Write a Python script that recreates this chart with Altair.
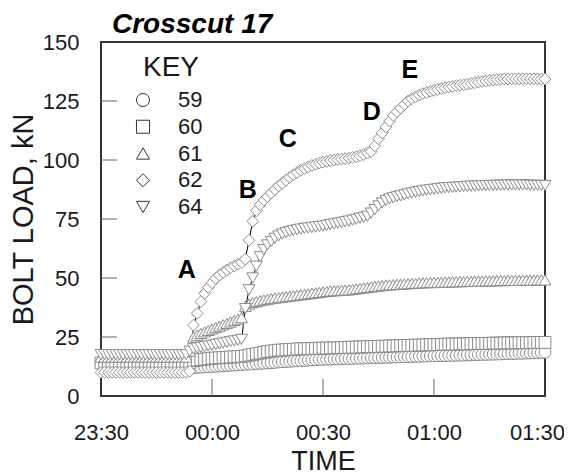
import altair as alt
import pandas as pd

# ---------------- data (minutes after 23:30, bolt load in kN) ----------------
minutes = list(range(121))

s59 = [13.5, 13.5, 13.5, 13.5, 13.5, 13.5, 13.5, 13.5, 13.5, 13.5,
       13.5, 13.5, 13.5, 13.5, 13.5, 13.5, 13.5, 13.5, 13.5, 13.5,
       13.5, 13.5, 13.5, 13.5, 13.0, 12.0, 12.1, 12.2, 12.3, 12.4,
       12.5, 12.6, 12.7, 12.8, 12.9, 13.0, 13.1, 13.2, 13.3, 13.4,
       13.5, 13.6, 13.7, 13.8, 13.9, 14.0, 14.1, 14.2, 14.4, 14.5,
       14.6, 14.7, 14.8, 14.9, 15.0, 15.1, 15.2, 15.3, 15.4, 15.5,
       15.5, 15.6, 15.6, 15.7, 15.7, 15.8, 15.8, 15.9, 15.9, 16.0,
       16.0, 16.1, 16.1, 16.2, 16.2, 16.3, 16.3, 16.4, 16.4, 16.5,
       16.5, 16.6, 16.6, 16.7, 16.7, 16.8, 16.8, 16.9, 16.9, 17.0,
       17.0, 17.0, 17.1, 17.1, 17.2, 17.2, 17.2, 17.3, 17.3, 17.4,
       17.4, 17.5, 17.5, 17.6, 17.6, 17.7, 17.7, 17.8, 17.8, 17.9,
       17.9, 18.0, 18.0, 18.1, 18.1, 18.2, 18.2, 18.3, 18.3, 18.4, 18.5]

s60 = [14.0, 14.0, 14.0, 14.0, 14.0, 14.0, 14.0, 14.0, 14.0, 14.0,
       14.0, 14.0, 14.0, 14.0, 14.0, 14.0, 14.0, 14.0, 14.0, 14.0,
       14.0, 14.0, 14.0, 14.0, 14.2, 15.0, 15.2, 15.4, 15.6, 15.8,
       16.0, 16.1, 16.2, 16.3, 16.4, 16.5, 16.6, 16.7, 16.8, 17.0,
       17.3, 17.6, 17.9, 18.2, 18.5, 18.8, 19.0, 19.2, 19.4, 19.5,
       19.6, 19.7, 19.8, 19.9, 20.0, 20.0, 20.1, 20.1, 20.2, 20.2,
       20.3, 20.3, 20.4, 20.4, 20.5, 20.5, 20.6, 20.6, 20.7, 20.7,
       20.8, 20.8, 20.9, 20.9, 21.0, 21.0, 21.1, 21.1, 21.2, 21.2,
       21.3, 21.3, 21.4, 21.4, 21.5, 21.5, 21.6, 21.6, 21.7, 21.7,
       21.8, 21.8, 21.9, 21.9, 22.0, 22.0, 22.0, 22.1, 22.1, 22.1,
       22.2, 22.2, 22.2, 22.3, 22.3, 22.3, 22.4, 22.4, 22.4, 22.5,
       22.5, 22.5, 22.5, 22.6, 22.6, 22.6, 22.6, 22.7, 22.7, 22.7, 22.7]

s61 = [16.5, 16.5, 16.5, 16.5, 16.5, 16.5, 16.5, 16.5, 16.5, 16.5,
       16.5, 16.5, 16.5, 16.5, 16.5, 16.5, 16.5, 16.5, 16.5, 16.5,
       16.5, 16.5, 16.5, 16.5, 19.0, 25.0, 25.8, 26.5, 27.2, 27.8,
       28.4, 29.0, 29.6, 30.2, 30.8, 31.4, 32.0, 32.6, 33.2, 38.0,
       39.0, 39.6, 40.0, 40.4, 40.7, 41.0, 41.3, 41.5, 41.7, 41.9,
       42.1, 42.3, 42.5, 42.7, 42.9, 43.1, 43.3, 43.5, 43.7, 43.9,
       44.1, 44.3, 44.5, 44.6, 44.7, 44.8, 44.9, 45.0, 45.2, 45.4,
       45.6, 45.8, 46.0, 46.2, 46.4, 46.6, 46.8, 47.0, 47.1, 47.2,
       47.3, 47.4, 47.5, 47.6, 47.7, 47.8, 47.9, 48.0, 48.0, 48.1,
       48.1, 48.2, 48.2, 48.3, 48.3, 48.4, 48.4, 48.5, 48.5, 48.6,
       48.6, 48.7, 48.7, 48.7, 48.8, 48.8, 48.8, 48.9, 48.9, 48.9,
       49.0, 49.0, 49.0, 49.0, 49.1, 49.1, 49.1, 49.1, 49.2, 49.2, 49.2]

s62 = [10.0, 10.0, 10.0, 10.0, 10.0, 10.0, 10.0, 10.0, 10.0, 10.0,
       10.0, 10.0, 10.0, 10.0, 10.0, 10.0, 10.0, 10.0, 10.0, 10.0,
       10.0, 10.0, 10.0, 10.0, 10.5, 30.0, 35.0, 40.0, 43.5, 46.0,
       48.0, 49.8, 51.2, 52.4, 53.4, 54.3, 55.1, 55.8, 56.5, 58.0,
       66.0, 74.0, 78.5, 81.0, 83.0, 84.5, 86.0, 87.5, 89.0, 90.2,
       91.4, 92.6, 93.7, 94.7, 95.6, 96.4, 97.1, 97.7, 98.2, 98.7,
       99.1, 99.4, 99.7, 100.0, 100.2, 100.4, 100.6, 100.8, 101.1, 101.4,
       101.8, 102.3, 102.9, 103.6, 106.0, 109.0, 111.5, 114.0, 116.5, 118.8,
       120.5, 122.0, 123.5, 125.0, 126.0, 126.8, 127.5, 128.1, 128.6, 129.1,
       129.5, 129.9, 130.3, 130.6, 130.9, 131.2, 131.5, 131.7, 131.9, 132.1,
       132.4, 132.7, 133.0, 133.3, 133.5, 133.7, 133.9, 134.1, 134.2, 134.3,
       134.3, 134.4, 134.4, 134.4, 134.4, 134.4, 134.4, 134.4, 134.4, 134.3, 134.3]

s64 = [17.5, 17.5, 17.5, 17.5, 17.5, 17.5, 17.5, 17.5, 17.5, 17.5,
       17.5, 17.5, 17.5, 17.5, 17.5, 17.5, 17.5, 17.5, 17.5, 17.5,
       17.5, 17.5, 17.5, 17.5, 19.0, 20.0, 20.3, 20.6, 20.9, 21.2,
       21.5, 21.8, 22.1, 22.4, 22.7, 23.0, 23.3, 23.6, 24.0, 37.0,
       45.0, 50.0, 55.0, 59.0, 62.0, 64.0, 65.5, 66.8, 67.8, 68.6,
       69.2, 69.7, 70.1, 70.4, 70.7, 71.0, 71.2, 71.4, 71.6, 71.8,
       72.0, 72.3, 72.6, 72.9, 73.2, 73.5, 73.8, 74.1, 74.5, 74.9,
       75.3, 75.7, 76.2, 77.5, 79.0, 80.5, 81.8, 82.8, 83.5, 84.0,
       84.4, 84.8, 85.2, 85.6, 86.0, 86.3, 86.6, 86.9, 87.2, 87.4,
       87.6, 87.8, 88.0, 88.2, 88.3, 88.4, 88.5, 88.6, 88.7, 88.8,
       88.9, 89.0, 89.0, 89.1, 89.1, 89.2, 89.2, 89.3, 89.3, 89.3,
       89.4, 89.4, 89.4, 89.4, 89.4, 89.4, 89.3, 89.3, 89.2, 89.2, 89.2]

series_names = ["59", "60", "61", "62", "64"]
series_shapes = ["circle", "square", "triangle-up", "diamond", "triangle-down"]
tick_minutes = [0, 30, 60, 90, 120]
tick_labels = ["23:30", "00:00", "00:30", "01:00", "01:30"]
y_ticks = [0, 25, 50, 75, 100, 125, 150]
ann_labels = ["A", "B", "C", "D", "E"]
ann_t = [23.2, 39.7, 50.5, 73.2, 83.5]
ann_v = [53.4, 87.3, 108.9, 120.3, 138.0]

all_series = [s59, s60, s61, s62, s64]
for s in all_series:
    assert len(s) == len(minutes), len(s)

frames = []
for name, vals in zip(series_names, all_series):
    frames.append(pd.DataFrame({"t": minutes, "v": vals, "series": name}))
df = pd.concat(frames, ignore_index=True)

FONT = "Liberation Sans"
TXT = "#1a1a1a"

X = alt.X(
    "t:Q",
    scale=alt.Scale(domain=[0, 120], nice=False, zero=False),
    axis=alt.Axis(
        values=tick_minutes,
        labelExpr=f"{tick_labels}[round(datum.value / 30)]",
        title="TIME",
        domain=False, ticks=False, tickSize=0, grid=False,
        labelFlush=False,
        labelFont=FONT, labelFontSize=22, labelColor=TXT, labelPadding=26,
        labelOffset={"condition": {"test": "datum.value == 120", "value": -8}, "value": 0},
        titleFont=FONT, titleFontSize=27, titleFontWeight="normal",
        titleColor=TXT, titlePadding=5,
    ),
)
Y = alt.Y(
    "v:Q",
    scale=alt.Scale(domain=[0, 150], nice=False, zero=True),
    axis=alt.Axis(
        values=y_ticks,
        title="BOLT LOAD, kN",
        domain=False, ticks=False, tickSize=0, grid=False,
        labelFlush=False,
        labelFont=FONT, labelFontSize=22, labelColor=TXT, labelPadding=22,
        titleFont=FONT, titleFontSize=29, titleFontWeight="normal",
        titleColor=TXT, titlePadding=4,
    ),
)
SHAPE = alt.Shape("series:N", scale=alt.Scale(domain=series_names, range=series_shapes), legend=None)

base = alt.Chart(df)
lines = base.mark_line(color="black", strokeWidth=1).encode(x=X, y=Y, detail="series:N")
points = base.mark_point(filled=True, fill="white", stroke="#8a8a8a", strokeWidth=1,
                         size=140, opacity=1).encode(x=X, y=Y, shape=SHAPE)

ytick_df = pd.DataFrame({"v": y_ticks[1:-1]})
yticks = alt.Chart(ytick_df).mark_rule(color="#666", strokeWidth=1).encode(
    y=Y, x=alt.value(0), x2=alt.value(16))
xtick_df = pd.DataFrame({"t": tick_minutes[1:-1]})
xticks = alt.Chart(xtick_df).mark_rule(color="#666", strokeWidth=1).encode(
    x=X, y=alt.value(354), y2=alt.value(337))

ann_df = pd.DataFrame({"t": ann_t, "v": ann_v, "label": ann_labels})
ann = alt.Chart(ann_df).mark_text(font=FONT, fontSize=25, fontWeight="bold", color="black",
                                  align="center", baseline="middle").encode(
    x=X, y=Y, text="label:N")

title = alt.Chart(pd.DataFrame({"k": [0]})).mark_text(
    text="Crosscut 17", font=FONT, fontSize=28, fontWeight="bold", fontStyle="italic",
    color="black", align="left", baseline="alphabetic").encode(x=alt.value(11), y=alt.value(-9))

leg_df = pd.DataFrame({"series": series_names, "row": list(range(len(series_names)))})
leg_base = alt.Chart(leg_df).transform_calculate(ly="58 + datum.row * 26.75")
leg_pts = leg_base.mark_point(filled=True, fill="white", stroke="#333", strokeWidth=1,
                              size=170, opacity=1).encode(
    x=alt.value(42), y=alt.Y("ly:Q", scale=None, axis=None), shape=SHAPE)
leg_txt = leg_base.mark_text(font=FONT, fontSize=22, color=TXT, align="left",
                             baseline="middle").encode(
    x=alt.value(77), y=alt.Y("ly:Q", scale=None, axis=None), text="series:N")
key_title = alt.Chart(pd.DataFrame({"k": [0]})).mark_text(
    text="KEY", font=FONT, fontSize=28, color=TXT, align="left", baseline="middle").encode(
    x=alt.value(42), y=alt.value(26))

chart = alt.layer(
    yticks, xticks, lines, points, ann, title, key_title, leg_pts, leg_txt
).properties(
    width=444, height=354,
    autosize=alt.AutoSizeParams(type="none"),
    padding={"left": 93, "top": 34, "right": 19, "bottom": 80},
).configure(font=FONT, background="white").configure_view(stroke="#333", strokeWidth=2)

chart.save("out.html", embed_options={"renderer": "svg", "actions": False})
